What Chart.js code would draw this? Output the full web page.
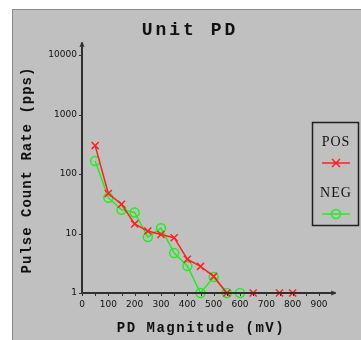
<!DOCTYPE html>
<html>
<head>
<meta charset="utf-8">
<script src="https://cdn.jsdelivr.net/npm/chart.js@4/dist/chart.umd.min.js"></script>
<style>
  html, body { margin: 0; padding: 0; background: #ffffff; }
  #wrap { width: 361px; height: 340px; }
</style>
</head>
<body>
<div id="wrap"><canvas id="canvas" width="361" height="340"></canvas></div>
<script>
// PD magnitude (mV) and pulse counts
const posMagnitudes = [50, 100, 150, 200, 250, 300, 350, 400, 450, 500, 550, 650, 750, 800];
const posCounts = [300, 47, 31, 14.5, 11, 9.6, 8.5, 3.7, 2.8, 1.9, 1, 1, 1, 1];
const negMagnitudes = [50, 100, 150, 200, 250, 300, 350, 400, 450, 500, 550, 600];
const negCounts = [165, 40, 25, 22.6, 8.7, 12.3, 4.7, 2.85, 1, 1.85, 1, 1];
const xTickValues = [0, 100, 200, 300, 400, 500, 600, 700, 800, 900];
const yTickValues = [1, 10, 100, 1000, 10000];
const seriesLabels = ['POS', 'NEG'];

const RED = '#ff2020';
const GREEN = '#20ee20';
const AXIS = '#303030';

const toPoints = (xs, ys) => xs.map((x, i) => ({ x: x, y: ys[i] }));

// background panel, title, axis titles, axes and legend
const decorPlugin = {
    id: 'decor',
    beforeDraw(chart) {
        const ctx = chart.ctx;
        ctx.save();
        ctx.fillStyle = '#ffffff';
        ctx.fillRect(0, 0, chart.width, chart.height);
        ctx.fillStyle = '#c0c0c0';
        ctx.fillRect(12, 9, chart.width - 12, chart.height - 9);
        ctx.strokeStyle = '#8a8a8a';
        ctx.lineWidth = 1;
        ctx.beginPath();
        ctx.moveTo(12.5, chart.height);
        ctx.lineTo(12.5, 9.5);
        ctx.lineTo(chart.width, 9.5);
        ctx.stroke();

        // title
        ctx.fillStyle = '#111111';
        ctx.textAlign = 'center';
        ctx.textBaseline = 'middle';
        ctx.font = 'bold 18px "Liberation Mono", "DejaVu Sans Mono", monospace';
        ctx.letterSpacing = '3px';
        ctx.fillText('Unit PD', 190, 30);

        // axis titles
        ctx.font = 'bold 14px "Liberation Mono", "DejaVu Sans Mono", monospace';
        ctx.letterSpacing = '1.5px';
        ctx.fillText('PD Magnitude (mV)', 201, 328);
        ctx.save();
        ctx.translate(27, 170);
        ctx.rotate(-Math.PI / 2);
        ctx.letterSpacing = '1px';
        ctx.fillText('Pulse Count Rate (pps)', 0, 0);
        ctx.restore();
        ctx.letterSpacing = '0px';
        ctx.restore();
    },
    afterDatasetsDraw(chart) {
        const ctx = chart.ctx;
        const area = chart.chartArea;
        const xs = chart.scales.x;
        const ys = chart.scales.y;
        ctx.save();
        ctx.strokeStyle = AXIS;
        ctx.lineWidth = 2;
        ctx.beginPath();
        ctx.moveTo(area.left, area.bottom);
        ctx.lineTo(area.right + 16, area.bottom);
        ctx.moveTo(area.left, area.bottom);
        ctx.lineTo(area.left, area.top - 12);
        ctx.stroke();

        // arrow heads
        ctx.lineWidth = 1;
        ctx.beginPath();
        ctx.moveTo(area.right + 12, area.bottom - 2);
        ctx.lineTo(area.right + 17, area.bottom);
        ctx.lineTo(area.right + 12, area.bottom + 2);
        ctx.moveTo(area.left - 2, area.top - 8);
        ctx.lineTo(area.left, area.top - 13);
        ctx.lineTo(area.left + 2, area.top - 8);
        ctx.stroke();

        // tick marks
        ctx.lineWidth = 1;
        ctx.beginPath();
        for (let v = 0; v <= 900; v += 50) {
            const px = Math.round(xs.getPixelForValue(v)) + 0.5;
            ctx.moveTo(px, area.bottom);
            ctx.lineTo(px, area.bottom + 3);
        }
        yTickValues.forEach(v => {
            const py = Math.round(ys.getPixelForValue(v)) + 0.5;
            ctx.moveTo(area.left - 3, py);
            ctx.lineTo(area.left, py);
        });
        ctx.stroke();

        // legend box
        ctx.strokeStyle = '#202020';
        ctx.lineWidth = 1.5;
        ctx.strokeRect(312.5, 122.5, 46, 103);
        ctx.fillStyle = '#111111';
        ctx.font = '14px "Liberation Serif", "DejaVu Serif", serif';
        ctx.letterSpacing = '1px';
        ctx.textAlign = 'center';
        ctx.textBaseline = 'middle';
        const legendRows = [
            { label: seriesLabels[0], color: RED, textY: 142, lineY: 163, style: 'cross' },
            { label: seriesLabels[1], color: GREEN, textY: 193, lineY: 214, style: 'circle' },
        ];
        legendRows.forEach(row => {
            ctx.fillText(row.label, 336, row.textY);
            ctx.strokeStyle = row.color;
            ctx.lineWidth = 1.5;
            ctx.beginPath();
            ctx.moveTo(322, row.lineY);
            ctx.lineTo(350, row.lineY);
            if (row.style === 'cross') {
                ctx.moveTo(332, row.lineY - 4);
                ctx.lineTo(340, row.lineY + 4);
                ctx.moveTo(340, row.lineY - 4);
                ctx.lineTo(332, row.lineY + 4);
                ctx.stroke();
            } else {
                ctx.stroke();
                ctx.beginPath();
                ctx.arc(336, row.lineY, 4.5, 0, Math.PI * 2);
                ctx.stroke();
            }
        });
        ctx.letterSpacing = '0px';
        ctx.restore();
    }
};

new Chart(document.getElementById('canvas'), {
    type: 'line',
    data: {
        datasets: [
            {
                label: seriesLabels[0],
                data: toPoints(posMagnitudes, posCounts),
                borderColor: RED,
                backgroundColor: RED,
                borderWidth: 1.5,
                pointStyle: 'crossRot',
                pointRadius: 5,
                pointBorderWidth: 1.5,
                tension: 0,
                clip: false
            },
            {
                label: seriesLabels[1],
                data: toPoints(negMagnitudes, negCounts),
                borderColor: GREEN,
                backgroundColor: 'rgba(0,0,0,0)',
                borderWidth: 1.5,
                pointStyle: 'circle',
                pointRadius: 4.5,
                pointBorderWidth: 1.5,
                tension: 0,
                clip: false
            }
        ]
    },
    options: {
        responsive: false,
        animation: false,
        layout: { padding: { left: 42, top: 55, right: 42, bottom: 27 } },
        plugins: {
            legend: { display: false },
            tooltip: { enabled: false }
        },
        scales: {
            x: {
                type: 'linear',
                min: 0,
                max: 900,
                grid: { display: false, drawTicks: false },
                border: { display: false },
                afterBuildTicks: scale => { scale.ticks = xTickValues.map(v => ({ value: v })); },
                afterFit: scale => { scale.height = 20; },
                ticks: {
                    autoSkip: false,
                    maxRotation: 0,
                    padding: 6,
                    color: '#111111',
                    font: { family: '"DejaVu Sans", sans-serif', size: 9 }
                }
            },
            y: {
                type: 'logarithmic',
                min: 1,
                max: 10000,
                grid: { display: false, drawTicks: false },
                border: { display: false },
                afterBuildTicks: scale => { scale.ticks = yTickValues.map(v => ({ value: v })); },
                afterFit: scale => { scale.width = 40; },
                ticks: {
                    autoSkip: false,
                    padding: 5,
                    color: '#111111',
                    font: { family: '"DejaVu Sans", sans-serif', size: 9 },
                    callback: value => String(value)
                }
            }
        }
    },
    plugins: [decorPlugin]
});
</script>
</body>
</html>
